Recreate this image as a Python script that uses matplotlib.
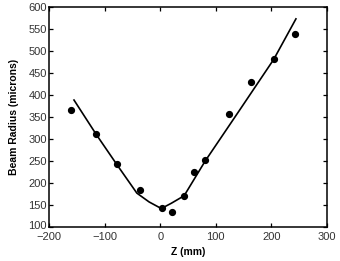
import matplotlib
matplotlib.use("Agg")
import matplotlib.pyplot as plt
import matplotlib.transforms as mtransforms

plt.rcParams['font.family'] = ['Liberation Sans', 'DejaVu Sans']

# measured data points
z_data = [-160, -115, -77, -36, 3, 21, 43, 60, 81, 124, 163, 204, 243]
r_data = [366, 311, 243, 185, 143, 135, 170, 225, 251, 357, 428, 480, 537]

# fitted curve
z_fit = [-155, -115, -77, -42, -20, 2, 20, 43, 81, 140, 204, 244]
r_fit = [388, 310, 240, 177, 157, 142, 154, 171, 250, 360, 480, 572]

x_ticks = [-200, -100, 0, 100, 200, 300]
y_ticks = [100, 150, 200, 250, 300, 350, 400, 450, 500, 550, 600]

fig = plt.figure(figsize=(3.4, 2.61), dpi=100)
ax = fig.add_axes([0.144, 0.13, 0.818, 0.845])
ax.plot(z_fit, r_fit, color='black', lw=1.2)
ax.plot(z_data, r_data, 'o', color='black', ms=4.2)
ax.set_xlim(-200, 300)
ax.set_ylim(100, 600)
ax.set_xticks(x_ticks)
ax.set_yticks(y_ticks)
ax.tick_params(direction='in', length=3, width=0.9, top=True, right=True,
               labelsize=8, labelcolor='#333333')
ax.tick_params(axis='x', pad=3.5)
ax.tick_params(axis='y', pad=1.5)
for s in ax.spines.values():
    s.set_linewidth(1.1)
ax.set_xlabel('Z (mm)', fontsize=7.5, fontweight='bold', labelpad=4)
ax.set_ylabel('Beam Radius (microns)', fontsize=7.5, fontweight='bold', labelpad=7)
fig.canvas.draw()
# nudge the lowest y label up a little so it clears the -200 label
lbl = ax.get_yticklabels()[0]
lbl.set_transform(lbl.get_transform() + mtransforms.ScaledTranslation(0, 1.5/72, fig.dpi_scale_trans))
fig.savefig('out.png', dpi=100)
